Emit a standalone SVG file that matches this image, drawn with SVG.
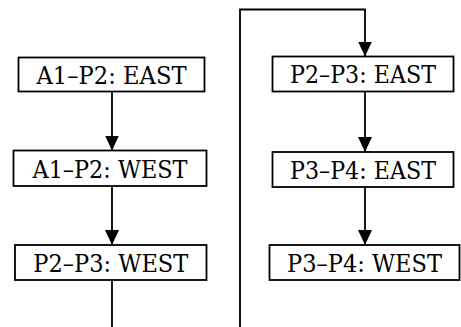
<svg xmlns="http://www.w3.org/2000/svg" width="461" height="327" viewBox="0 0 461 327">
  <style>
    .box { fill: #ffffff; stroke: #000000; stroke-width: 1.8; }
    .lbl { font-family: "DejaVu Serif", serif; font-size: 24px; fill: #000000; text-anchor: middle; }
    .edge { fill: none; stroke: #000000; stroke-width: 1.8; }
  </style>
  <defs>
    <marker id="tri" viewBox="0 0 15 14" refX="15" refY="7" markerWidth="15" markerHeight="14" markerUnits="userSpaceOnUse" orient="auto">
      <path d="M0,0 L15,7 L0,14 Z" fill="#000000"/>
    </marker>
  </defs>

  <!-- connectors -->
  <g id="edges">
    <path class="edge" d="M112,91.5 V150.5" marker-end="url(#tri)"/>
    <path class="edge" d="M112,186.5 V245" marker-end="url(#tri)"/>
    <path class="edge" d="M112,280 V328"/>
    <path class="edge" d="M240,328 V9.5 H365 V56.5" marker-end="url(#tri)"/>
    <path class="edge" d="M365,91.5 V152" marker-end="url(#tri)"/>
    <path class="edge" d="M365,187 V245" marker-end="url(#tri)"/>
  </g>

  <!-- left column -->
  <g id="a1p2-east">
    <rect class="box" x="18.5" y="57.5" width="186" height="34"/>
    <text class="lbl" x="111.5" y="83.5" textLength="150" lengthAdjust="spacingAndGlyphs">A1–P2: EAST</text>
  </g>
  <g id="a1p2-west">
    <rect class="box" x="13.5" y="150.5" width="193" height="35.5"/>
    <text class="lbl" x="110" y="178" textLength="155" lengthAdjust="spacingAndGlyphs">A1–P2: WEST</text>
  </g>
  <g id="p2p3-west">
    <rect class="box" x="15" y="245" width="191.5" height="35"/>
    <text class="lbl" x="110.8" y="271.5" textLength="155" lengthAdjust="spacingAndGlyphs">P2–P3: WEST</text>
  </g>

  <!-- right column -->
  <g id="p2p3-east">
    <rect class="box" x="272.5" y="56.5" width="181" height="35"/>
    <text class="lbl" x="363" y="83" textLength="146" lengthAdjust="spacingAndGlyphs">P2–P3: EAST</text>
  </g>
  <g id="p3p4-east">
    <rect class="box" x="272.5" y="152" width="181" height="35"/>
    <text class="lbl" x="363" y="178.5" textLength="146" lengthAdjust="spacingAndGlyphs">P3–P4: EAST</text>
  </g>
  <g id="p3p4-west">
    <rect class="box" x="269.5" y="245" width="190" height="35"/>
    <text class="lbl" x="364.5" y="271.5" textLength="155" lengthAdjust="spacingAndGlyphs">P3–P4: WEST</text>
  </g>
</svg>
